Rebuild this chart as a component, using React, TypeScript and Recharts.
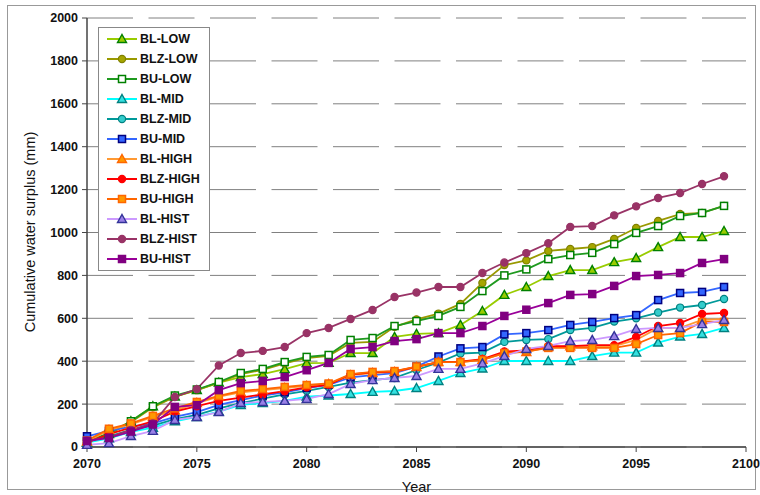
import React from 'react';
import { LineChart, Line, XAxis, YAxis, CartesianGrid } from 'recharts';

const years = [
  2070, 2071, 2072, 2073, 2074, 2075, 2076, 2077, 2078, 2079,
  2080, 2081, 2082, 2083, 2084, 2085, 2086, 2087, 2088, 2089,
  2090, 2091, 2092, 2093, 2094, 2095, 2096, 2097, 2098, 2099,
];
const xTicks = [2070, 2075, 2080, 2085, 2090, 2095, 2100];
const yTicks = [0, 200, 400, 600, 800, 1000, 1200, 1400, 1600, 1800, 2000];

const blLow = [20, 60, 120, 190, 235, 265, 300, 326, 340, 363, 391, 392, 438, 438, 513, 527, 531, 569, 634, 709, 746, 797, 825, 825, 862, 881, 932, 979, 979, 1007];
const blzLow = [20, 60, 115, 185, 235, 265, 300, 340, 360, 390, 415, 425, 485, 490, 560, 595, 622, 667, 765, 848, 870, 914, 923, 932, 970, 1021, 1054, 1086, 1091, 1124];
const buLow = [25, 65, 120, 190, 240, 268, 303, 345, 364, 396, 420, 429, 499, 508, 564, 587, 611, 653, 727, 800, 828, 876, 895, 905, 946, 998, 1030, 1077, 1091, 1124];
const blMid = [20, 40, 70, 90, 120, 140, 165, 196, 205, 215, 235, 240, 247, 257, 261, 275, 308, 345, 366, 401, 401, 401, 401, 424, 440, 440, 487, 515, 527, 555];
const blzMid = [30, 50, 80, 100, 130, 150, 180, 205, 225, 245, 262, 280, 300, 312, 322, 359, 394, 436, 440, 490, 499, 503, 545, 555, 585, 600, 627, 650, 662, 690];
const buMid = [50, 75, 95, 110, 140, 163, 196, 219, 240, 255, 275, 290, 325, 335, 345, 375, 422, 460, 466, 525, 531, 545, 569, 583, 601, 615, 685, 718, 723, 746];
const blHigh = [25, 80, 105, 140, 170, 205, 235, 255, 265, 275, 285, 294, 335, 345, 350, 373, 396, 396, 406, 438, 443, 466, 470, 470, 470, 499, 555, 555, 592, 597];
const blzHigh = [20, 60, 90, 120, 165, 190, 215, 230, 245, 260, 278, 290, 338, 348, 352, 373, 396, 398, 410, 445, 450, 470, 470, 475, 475, 513, 564, 578, 620, 625];
const buHigh = [30, 85, 110, 145, 180, 210, 238, 261, 270, 280, 289, 296, 340, 350, 354, 375, 396, 396, 406, 438, 445, 462, 462, 462, 462, 480, 522, 531, 583, 583];
const blHist = [10, 18, 51, 75, 126, 140, 163, 205, 210, 215, 224, 247, 294, 312, 322, 331, 364, 364, 390, 424, 457, 471, 494, 499, 517, 550, 555, 555, 573, 592];
const blzHist = [30, 45, 80, 110, 233, 270, 380, 438, 448, 466, 531, 555, 597, 639, 699, 720, 746, 746, 811, 860, 904, 950, 1026, 1030, 1080, 1122, 1161, 1184, 1226, 1262];
const buHist = [28, 42, 72, 105, 187, 195, 265, 298, 308, 326, 358, 392, 457, 466, 494, 503, 531, 531, 564, 611, 640, 671, 709, 713, 751, 797, 802, 811, 858, 876];

type Shape = 'triangle' | 'circle' | 'square';

interface SeriesDef {
  key: string;
  name: string;
  values: number[];
  line: string;
  fill: string;
  stroke: string;
  shape: Shape;
}

const SERIES: SeriesDef[] = [
  { key: 'blLow', name: 'BL-LOW', values: blLow, line: '#99cc00', fill: '#99cc00', stroke: '#008000', shape: 'triangle' },
  { key: 'blzLow', name: 'BLZ-LOW', values: blzLow, line: '#999900', fill: '#a6a600', stroke: '#808000', shape: 'circle' },
  { key: 'buLow', name: 'BU-LOW', values: buLow, line: '#1f9a1f', fill: '#ffffff', stroke: '#008000', shape: 'square' },
  { key: 'blMid', name: 'BL-MID', values: blMid, line: '#00ffff', fill: '#33e0e0', stroke: '#008080', shape: 'triangle' },
  { key: 'blzMid', name: 'BLZ-MID', values: blzMid, line: '#009999', fill: '#33cccc', stroke: '#008080', shape: 'circle' },
  { key: 'buMid', name: 'BU-MID', values: buMid, line: '#3366ff', fill: '#3366ff', stroke: '#000080', shape: 'square' },
  { key: 'blHigh', name: 'BL-HIGH', values: blHigh, line: '#ff9933', fill: '#ff9900', stroke: '#ff6600', shape: 'triangle' },
  { key: 'blzHigh', name: 'BLZ-HIGH', values: blzHigh, line: '#ff0000', fill: '#ff0000', stroke: '#ff0000', shape: 'circle' },
  { key: 'buHigh', name: 'BU-HIGH', values: buHigh, line: '#ff6600', fill: '#ff9900', stroke: '#ff6600', shape: 'square' },
  { key: 'blHist', name: 'BL-HIST', values: blHist, line: '#cc99ff', fill: '#9980e6', stroke: '#333399', shape: 'triangle' },
  { key: 'blzHist', name: 'BLZ-HIST', values: blzHist, line: '#993366', fill: '#993366', stroke: '#993366', shape: 'circle' },
  { key: 'buHist', name: 'BU-HIST', values: buHist, line: '#990099', fill: '#800080', stroke: '#800080', shape: 'square' },
];

const chartData = years.map((year, i) => {
  const row: Record<string, number> = { year };
  SERIES.forEach(s => {
    row[s.key] = s.values[i];
  });
  return row;
});

const FONT = '"Liberation Sans", Arial, sans-serif';

const MarkerShape = ({ shape, cx, cy, fill, stroke }: { shape: Shape; cx: number; cy: number; fill: string; stroke: string }) => {
  if (shape === 'circle') {
    return <circle cx={cx} cy={cy} r={3.6} fill={fill} stroke={stroke} strokeWidth={1.2} />;
  }
  if (shape === 'square') {
    return <rect x={cx - 3.5} y={cy - 3.5} width={7} height={7} fill={fill} stroke={stroke} strokeWidth={1.5} />;
  }
  return (
    <polygon
      points={`${cx},${cy - 4.5} ${cx + 4.5},${cy + 3.5} ${cx - 4.5},${cy + 3.5}`}
      fill={fill}
      stroke={stroke}
      strokeWidth={1.4}
      strokeLinejoin="miter"
    />
  );
};

const makeDot = (s: SeriesDef) => (props: any) => {
  const { cx, cy, index } = props;
  if (cx == null || cy == null) return <g key={`e-${s.key}-${index}`} />;
  return (
    <g key={`d-${s.key}-${index}`}>
      <MarkerShape shape={s.shape} cx={cx} cy={cy} fill={s.fill} stroke={s.stroke} />
    </g>
  );
};

const ChartLegend = () => (
  <div
    style={{
      position: 'absolute',
      left: 98,
      top: 27,
      width: 110,
      padding: '1px 0',
      border: '1px solid #888',
      background: '#fff',
      fontFamily: FONT,
    }}
  >
    {SERIES.map(s => (
      <div key={s.key} style={{ height: 20, display: 'flex', alignItems: 'center' }}>
        <svg width={40} height={20} style={{ display: 'block' }}>
          <line x1={8} y1={10} x2={38} y2={10} stroke={s.line} strokeWidth={2} />
          <MarkerShape shape={s.shape} cx={23} cy={10} fill={s.fill} stroke={s.stroke} />
        </svg>
        <span style={{ fontSize: 12.5, fontWeight: 'bold', color: '#111', marginLeft: 1 }}>{s.name}</span>
      </div>
    ))}
  </div>
);

const YTitle = () => (
  <text
    x={30}
    y={232}
    transform="rotate(-90 30 232)"
    textAnchor="middle"
    dominantBaseline="central"
    fontFamily={FONT}
    fontSize={14.5}
    fill="#111"
  >
    Cumulative water surplus (mm)
  </text>
);

const App: React.FC = () => {
  return (
    <div style={{ position: 'absolute', left: 0, top: 0, width: 760, height: 495, background: '#fff' }}>
      <div
        style={{
          position: 'absolute',
          left: 7,
          top: 5,
          width: 749,
          height: 485,
          border: '1px solid #999',
          boxSizing: 'border-box',
        }}
      />
      <LineChart
        width={760}
        height={495}
        data={chartData}
        margin={{ top: 18, right: 14, bottom: 0, left: 0 }}
        style={{ position: 'absolute', left: 0, top: 0 }}
      >
        <CartesianGrid
          horizontal
          vertical={false}
          stroke="#808080"
          strokeDasharray="46 15.5"
        />
        <XAxis
          dataKey="year"
          type="number"
          domain={[2070, 2100]}
          ticks={xTicks}
          interval={0}
          height={48}
          axisLine={{ stroke: '#444', strokeWidth: 1.5 }}
          tickLine={{ stroke: '#444' }}
          tickSize={5}
          tickMargin={7}
          tick={{ fontFamily: FONT, fontSize: 12.5, fontWeight: 'bold', fill: '#111' }}
          label={{ value: 'Year', position: 'insideBottom', offset: 3, fontFamily: FONT, fontSize: 14.5, fill: '#111' }}
        />
        <XAxis
          xAxisId="top"
          orientation="top"
          type="number"
          domain={[2070, 2100]}
          height={0}
          tick={false}
          tickLine={false}
          axisLine={{ stroke: '#555' }}
        />
        <YAxis
          type="number"
          domain={[0, 2000]}
          ticks={yTicks}
          interval={0}
          width={87}
          axisLine={{ stroke: '#444', strokeWidth: 1.5 }}
          tickLine={{ stroke: '#444' }}
          tickSize={5}
          tickMargin={4}
          tick={{ fontFamily: FONT, fontSize: 12.5, fontWeight: 'bold', fill: '#111' }}
          label={{ content: () => <YTitle /> }}
        />
        <YAxis
          yAxisId="right"
          orientation="right"
          type="number"
          domain={[0, 2000]}
          width={0}
          tick={false}
          tickLine={false}
          axisLine={{ stroke: '#444', strokeWidth: 1.5 }}
        />
        {SERIES.map(s => (
          <Line
            key={s.key}
            type="linear"
            dataKey={s.key}
            name={s.name}
            stroke={s.line}
            strokeWidth={1.8}
            dot={makeDot(s)}
            activeDot={false}
            isAnimationActive={false}
          />
        ))}
      </LineChart>
      <ChartLegend />
    </div>
  );
};

export default App;
